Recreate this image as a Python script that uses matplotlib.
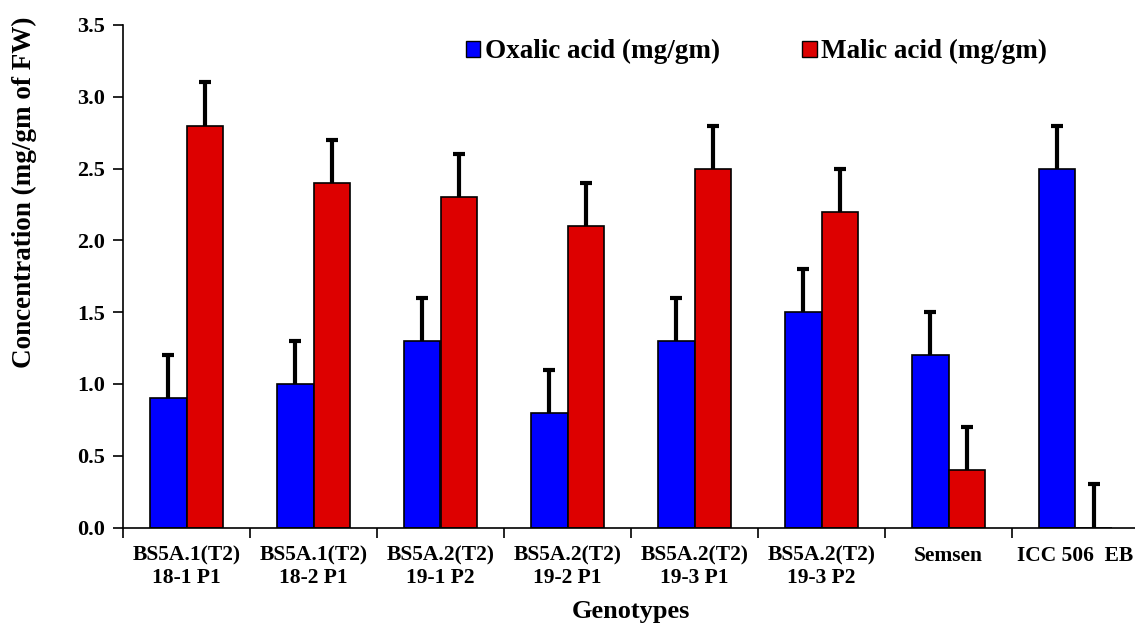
import numpy as np
import matplotlib
matplotlib.use("Agg")
import matplotlib.pyplot as plt
from matplotlib.patches import Patch

genotypes = ["BS5A.1(T2)\n18-1 P1", "BS5A.1(T2)\n18-2 P1", "BS5A.2(T2)\n19-1 P2",
             "BS5A.2(T2)\n19-2 P1", "BS5A.2(T2)\n19-3 P1", "BS5A.2(T2)\n19-3 P2",
             "Semsen", "ICC 506  EB"]
oxalic = [0.9, 1.0, 1.3, 0.8, 1.3, 1.5, 1.2, 2.5]
oxalic_err = [0.3, 0.3, 0.3, 0.3, 0.3, 0.3, 0.3, 0.3]
malic = [2.8, 2.4, 2.3, 2.1, 2.5, 2.2, 0.4, 0.0]
malic_err = [0.3, 0.3, 0.3, 0.3, 0.3, 0.3, 0.3, 0.3]

plt.rcParams['font.family'] = ['Liberation Serif', 'DejaVu Serif']
plt.rcParams['font.weight'] = 'bold'

fig = plt.figure(figsize=(11.35, 6.26), dpi=100)
ax = fig.add_axes([123 / 1135, 1 - 527.5 / 626, 1016 / 1135, 502.5 / 626])

x = np.arange(len(genotypes))
w = 0.285
ax.bar(x - w / 2, oxalic, w, color='#0000ff', edgecolor='black', linewidth=1.2, zorder=2)
ax.bar(x + w / 2, malic, w, color='#dd0000', edgecolor='black', linewidth=1.2, zorder=2)

# upward-only error bars: hide the lower cap
for xs, vals, errs in [(x - w / 2, oxalic, oxalic_err), (x + w / 2, malic, malic_err)]:
    _, caps, _ = ax.errorbar(xs, vals, yerr=[np.zeros(len(xs)), errs], fmt='none',
                             ecolor='black', elinewidth=3, capsize=4.5, capthick=3, zorder=1)
    caps[0].set_visible(False)

ax.set_xlim(-0.5, len(x) - 0.5)
ax.set_ylim(0, 3.5)
ax.set_yticks(np.arange(0, 3.51, 0.5))
ax.set_yticklabels([f"{v:.1f}" for v in np.arange(0, 3.51, 0.5)], fontsize=16, fontweight='bold')
ax.set_xticks(np.arange(-0.5, len(x), 1.0))
ax.set_xticklabels([])
ax.set_xticks(x, minor=True)
ax.set_xticklabels(genotypes, minor=True, fontsize=15.5, fontweight='bold', linespacing=1.15)
ax.tick_params(axis='x', which='minor', length=0, pad=13)
ax.tick_params(axis='x', which='major', length=7, width=1.2)
ax.tick_params(axis='y', length=7, width=1.2, pad=6)
for s in ['top', 'right']:
    ax.spines[s].set_visible(False)
for s in ['left', 'bottom']:
    ax.spines[s].set_linewidth(1.2)

ax.set_xlabel("Genotypes", fontsize=19, fontweight='bold', labelpad=9)
ax.set_ylabel("Concentration (mg/gm of FW)", fontsize=19.5, fontweight='bold')
ax.yaxis.set_label_coords(-0.085, 0.668)

handles = [Patch(facecolor='#0000ff', edgecolor='black'), Patch(facecolor='#dd0000', edgecolor='black')]
ax.legend(handles, ['Oxalic acid (mg/gm)', 'Malic acid (mg/gm)'], ncol=2, frameon=False,
          loc='upper center', bbox_to_anchor=(0.6235, 1.02), prop={'size': 19.5, 'weight': 'bold'},
          handlelength=0.55, handleheight=0.55, handletextpad=0.18, columnspacing=3.0)

fig.savefig("out.png", dpi=100)
